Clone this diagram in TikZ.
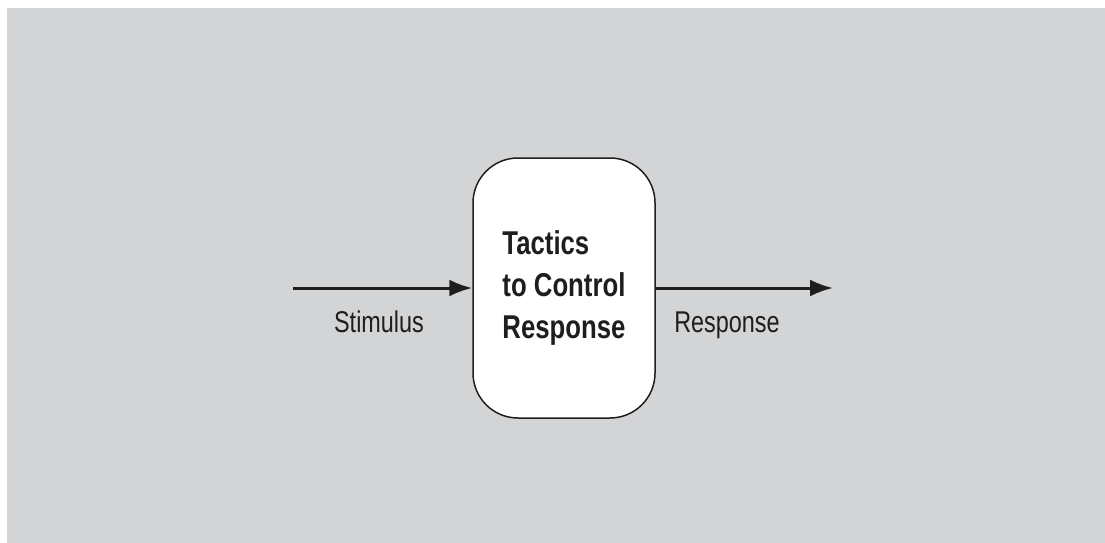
\documentclass[tikz,border=0pt]{standalone}
\usepackage{fontspec}
\setmainfont{Liberation Sans}[FakeStretch=0.78]
\usetikzlibrary{arrows.meta}
\definecolor{bggray}{RGB}{211,212,214}
\definecolor{ink}{RGB}{30,30,30}
\tikzset{
  conn/.style={line width=3pt, draw=ink, -{Latex[length=23pt,width=17pt]}},
  tacticbox/.style={draw=ink, line width=1.5pt, fill=white, rounded corners=45pt,
    minimum width=182pt, minimum height=260pt, inner sep=0pt, align=left,
    font=\fontsize{33}{42}\selectfont\bfseries, text=ink},
  lbl/.style={font=\fontsize{30}{36}\selectfont, text=ink, anchor=base}
}
\begin{document}
\begin{tikzpicture}[x=1pt,y=-1pt]
\useasboundingbox (0,0) rectangle (1105,543);
\fill[bggray] (7,8) rectangle (1105,543);
\node[tacticbox] (box) at (564,288) {Tactics\\to Control\\Response};
\coordinate (sin) at (293,288);
\coordinate (rout) at (833,288);
\draw[conn] (sin) -- (box.west);
\draw[conn] (box.east) -- (rout);
\node[lbl] (stim) at (379,332) {Stimulus};
\node[lbl] (resp) at (727,332) {Response};
\end{tikzpicture}
\end{document}
